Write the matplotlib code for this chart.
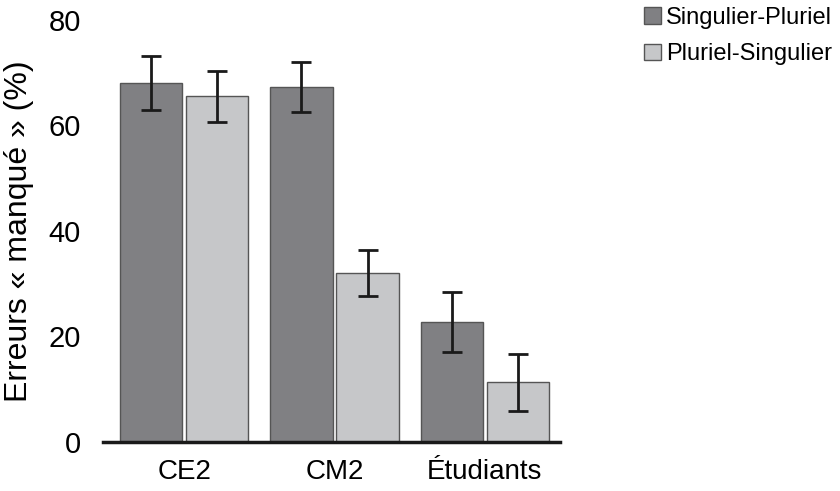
import numpy as np
from matplotlib import pyplot as plt

plt.rcParams['font.family'] = ['Liberation Sans', 'DejaVu Sans']

groups = ["CE2", "CM2", "Étudiants"]
sing_plur = [68.0, 67.3, 22.8]
sing_plur_err = [5.1, 4.7, 5.7]
plur_sing = [65.5, 32.0, 11.3]
plur_sing_err = [4.8, 4.4, 5.4]


def main():
    fig = plt.figure(figsize=(8.4, 4.91), dpi=100)
    ax = fig.add_axes([0.1226, 0.0998, 0.5441, 0.8595])
    x = np.arange(len(groups))
    w = 0.415
    err_kw = dict(ecolor="#1a1a1a", elinewidth=2, capsize=7, capthick=2)
    ax.bar(x - 0.22, sing_plur, w, yerr=sing_plur_err, color="#808083",
           edgecolor="#555555", linewidth=1, label="Singulier-Pluriel", error_kw=err_kw)
    ax.bar(x + 0.22, plur_sing, w, yerr=plur_sing_err, color="#c6c7c9",
           edgecolor="#555555", linewidth=1, label="Pluriel-Singulier", error_kw=err_kw)

    ax.set_xlim(-0.54, 2.50)
    ax.set_ylim(0, 80)
    ax.set_yticks([0, 20, 40, 60, 80])
    ax.set_xticks(x)
    ax.set_xticklabels(groups)
    ax.tick_params(axis="x", length=0, labelsize=20, pad=12)
    ax.tick_params(axis="y", length=0, labelsize=21, pad=16)
    for s in ["top", "right", "left"]:
        ax.spines[s].set_visible(False)
    ax.spines["bottom"].set_linewidth(2.5)
    ax.spines["bottom"].set_color("#1a1a1a")
    ax.set_ylabel("Erreurs « manqué » (%)", fontsize=23, labelpad=10)

    fig.legend(loc="upper left", bbox_to_anchor=(0.756, 1.005), frameon=False,
               fontsize=17, handlelength=0.7, handleheight=0.7, handletextpad=0.2,
               labelspacing=0.6, borderaxespad=0)
    fig.savefig("out.png", dpi=100)


if __name__ == "__main__":
    main()
